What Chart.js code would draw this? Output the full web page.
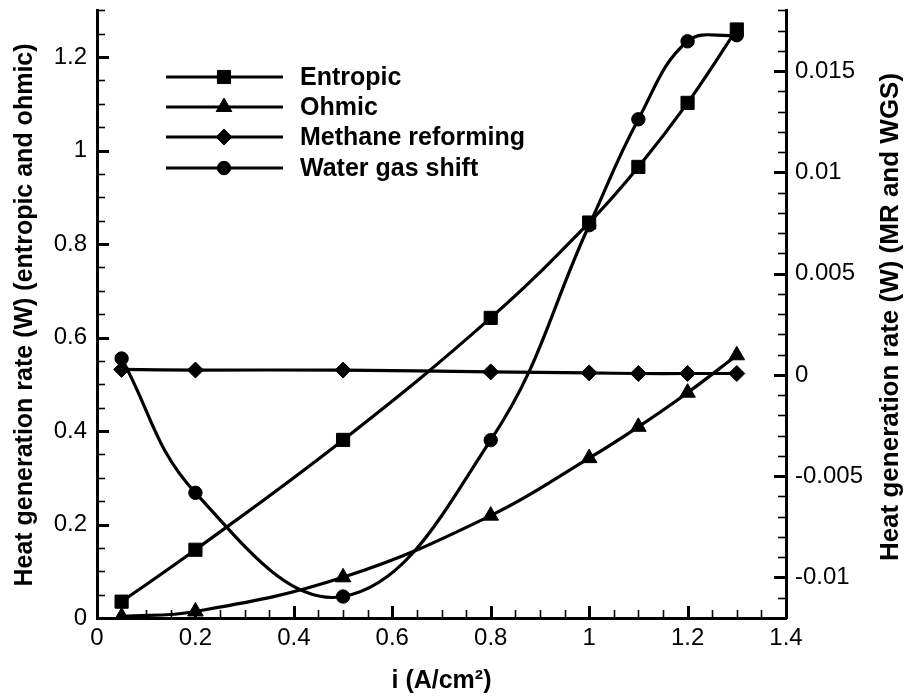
<!DOCTYPE html>
<html>
<head>
<meta charset="utf-8">
<script src="https://cdn.jsdelivr.net/npm/chart.js@4.4.0/dist/chart.umd.min.js"></script>
<style>
html,body{margin:0;padding:0;background:#fff;}
#wrap{width:907px;height:698px;position:relative;}
</style>
</head>
<body>
<div id="wrap"><canvas id="c" width="907" height="698"></canvas></div>
<script>
// ---- data ----
const currentDensity   = [0.05, 0.2, 0.5, 0.8, 1.0, 1.1, 1.2, 1.3];
const entropic         = [0.035, 0.146, 0.381, 0.642, 0.846, 0.965, 1.102, 1.259];
const ohmic            = [0.003, 0.014, 0.087, 0.219, 0.342, 0.409, 0.482, 0.562];
const methaneReforming = [0.00027, 0.00024, 0.00024, 0.00015, 0.00010, 0.00007, 0.00007, 0.00007];
const waterGasShift    = [0.00081, -0.00582, -0.01094, -0.00322, 0.00739, 0.01262, 0.01647, 0.01677];

const seriesNames  = ['Entropic', 'Ohmic', 'Methane reforming', 'Water gas shift'];
const xTickValues     = [0, 0.2, 0.4, 0.6, 0.8, 1, 1.2, 1.4];
const leftTickValues  = [0, 0.2, 0.4, 0.6, 0.8, 1, 1.2];
const rightTickValues = [-0.01, -0.005, 0, 0.005, 0.01, 0.015];
const xMinorStep = 0.05, leftMinorStep = 0.05, rightMinorStep = 0.001;

const xTitle     = 'i (A/cm\u00B2)';
const leftTitle  = 'Heat generation rate (W) (entropic and ohmic)';
const rightTitle = 'Heat generation rate (W) (MR and WGS)';

const FONT = '"Liberation Sans", Arial, Helvetica, sans-serif';
const fmt = v => String(Number(Number(v).toFixed(6)));

function pts(ys) { return currentDensity.map((x, i) => ({x: x, y: ys[i]})); }

const styles = [
  {pointStyle: 'rect', radius: 9.3, axis: 'yL', data: entropic},
  {pointStyle: 'triangle', radius: 9, axis: 'yL', data: ohmic},
  {pointStyle: 'rectRot', radius: 8, axis: 'yR', data: methaneReforming},
  {pointStyle: 'circle', radius: 6.7, axis: 'yR', data: waterGasShift}
];

const datasets = styles.map((s, i) => ({
  label: seriesNames[i],
  data: pts(s.data),
  yAxisID: s.axis,
  borderColor: '#000',
  backgroundColor: '#000',
  borderWidth: 3.2,
  pointStyle: s.pointStyle,
  pointRadius: s.radius,
  pointHoverRadius: s.radius,
  pointBorderWidth: 1,
  pointBorderColor: '#000',
  pointBackgroundColor: '#000',
  tension: 0.4,
  fill: false
}));

function drawMarker(ctx, style, r, x, y) {
  if (Chart.helpers && Chart.helpers.drawPoint) {
    Chart.helpers.drawPoint(ctx, {pointStyle: style, radius: r, rotation: 0, borderWidth: 1}, x, y);
    return;
  }
  ctx.beginPath();
  if (style === 'rect') { const s = Math.SQRT1_2 * r; ctx.rect(x - s, y - s, 2 * s, 2 * s); }
  else if (style === 'triangle') { ctx.moveTo(x, y - r); ctx.lineTo(x + 0.866 * r, y + 0.5 * r); ctx.lineTo(x - 0.866 * r, y + 0.5 * r); ctx.closePath(); }
  else if (style === 'rectRot') { ctx.moveTo(x - r, y); ctx.lineTo(x, y - r); ctx.lineTo(x + r, y); ctx.lineTo(x, y + r); ctx.closePath(); }
  else { ctx.arc(x, y, r, 0, Math.PI * 2); }
  ctx.fill(); ctx.stroke();
}

const framePlugin = {
  id: 'frame',
  afterDraw(chart) {
    const ctx = chart.ctx, ca = chart.chartArea;
    const sx = chart.scales.x, sl = chart.scales.yL, sr = chart.scales.yR;
    ctx.save();
    ctx.strokeStyle = '#000';
    ctx.fillStyle = '#000';
    function ticks(scale, step, majors, orient) {
      const n = Math.round((scale.max - scale.min) / step);
      for (let i = 0; i <= n; i++) {
        const v = scale.min + i * step;
        const major = majors.some(m => Math.abs(m - v) < step * 1e-3);
        const len = major ? 12 : 8;
        ctx.lineWidth = major ? 3 : 1.6;
        const p = Math.round(scale.getPixelForValue(v)) + 0.5;
        ctx.beginPath();
        if (orient === 'x') { ctx.moveTo(p, ca.bottom); ctx.lineTo(p, ca.bottom - len); }
        else if (orient === 'l') { ctx.moveTo(ca.left, p); ctx.lineTo(ca.left + len, p); }
        else { ctx.moveTo(ca.right, p); ctx.lineTo(ca.right - len, p); }
        ctx.stroke();
      }
    }
    ticks(sx, xMinorStep, xTickValues, 'x');
    ticks(sl, leftMinorStep, leftTickValues, 'l');
    ticks(sr, rightMinorStep, rightTickValues, 'r');

    // axis titles
    ctx.textAlign = 'center';
    ctx.textBaseline = 'alphabetic';
    ctx.font = 'bold 25px ' + FONT;
    ctx.fillText(xTitle, (ca.left + ca.right) / 2, 688);

    ctx.save();
    ctx.translate(32, 315);
    ctx.rotate(-Math.PI / 2);
    ctx.fillText(leftTitle, 0, 0);
    ctx.restore();

    ctx.save();
    ctx.font = 'bold 26px ' + FONT;
    ctx.translate(898, 317);
    ctx.rotate(-Math.PI / 2);
    ctx.fillText(rightTitle, 0, 0);
    ctx.restore();

    // legend
    const rows = [77, 107, 137, 168];
    ctx.textAlign = 'left';
    ctx.textBaseline = 'middle';
    ctx.font = 'bold 25px ' + FONT;
    rows.forEach((y, i) => {
      ctx.lineWidth = 3.2;
      ctx.beginPath();
      ctx.moveTo(166, y); ctx.lineTo(283, y);
      ctx.stroke();
      ctx.lineWidth = 1;
      drawMarker(ctx, styles[i].pointStyle, styles[i].radius, 224, y);
      ctx.fillText(seriesNames[i], 300, y + 1);
    });
    ctx.restore();
  }
};

const tickFont = {family: FONT, size: 24};

new Chart(document.getElementById('c'), {
  type: 'line',
  data: {datasets: datasets},
  options: {
    responsive: false,
    animation: false,
    devicePixelRatio: 1,
    layout: {padding: {top: 10, left: 0, right: 0, bottom: 0}},
    plugins: {legend: {display: false}, tooltip: {enabled: false}},
    events: [],
    scales: {
      x: {
        type: 'linear', position: 'bottom', min: 0, max: 1.4,
        grid: {display: false, drawTicks: false},
        border: {display: true, width: 3, color: '#000'},
        ticks: {font: tickFont, color: '#000', padding: 6, maxRotation: 0, autoSkip: false, callback: v => fmt(v)},
        afterBuildTicks: s => { s.ticks = xTickValues.map(v => ({value: v})); },
        afterFit: s => { s.height = 80; s.paddingLeft = 0; s.paddingRight = 0; }
      },
      yL: {
        type: 'linear', position: 'left', min: 0, max: 1.3,
        grid: {display: false, drawTicks: false},
        border: {display: true, width: 3, color: '#000'},
        ticks: {font: tickFont, color: '#000', padding: 10, autoSkip: false, callback: v => fmt(v)},
        afterBuildTicks: s => { s.ticks = leftTickValues.map(v => ({value: v})); },
        afterFit: s => { s.width = 97; s.paddingTop = 0; s.paddingBottom = 0; }
      },
      yR: {
        type: 'linear', position: 'right', min: -0.012, max: 0.018,
        grid: {display: false, drawTicks: false},
        border: {display: true, width: 3, color: '#000'},
        ticks: {font: tickFont, color: '#000', padding: 9, autoSkip: false, callback: v => fmt(v)},
        afterBuildTicks: s => { s.ticks = rightTickValues.map(v => ({value: v})); },
        afterFit: s => { s.width = 121; s.paddingTop = 0; s.paddingBottom = 0; }
      }
    }
  },
  plugins: [framePlugin]
});
</script>
</body>
</html>
